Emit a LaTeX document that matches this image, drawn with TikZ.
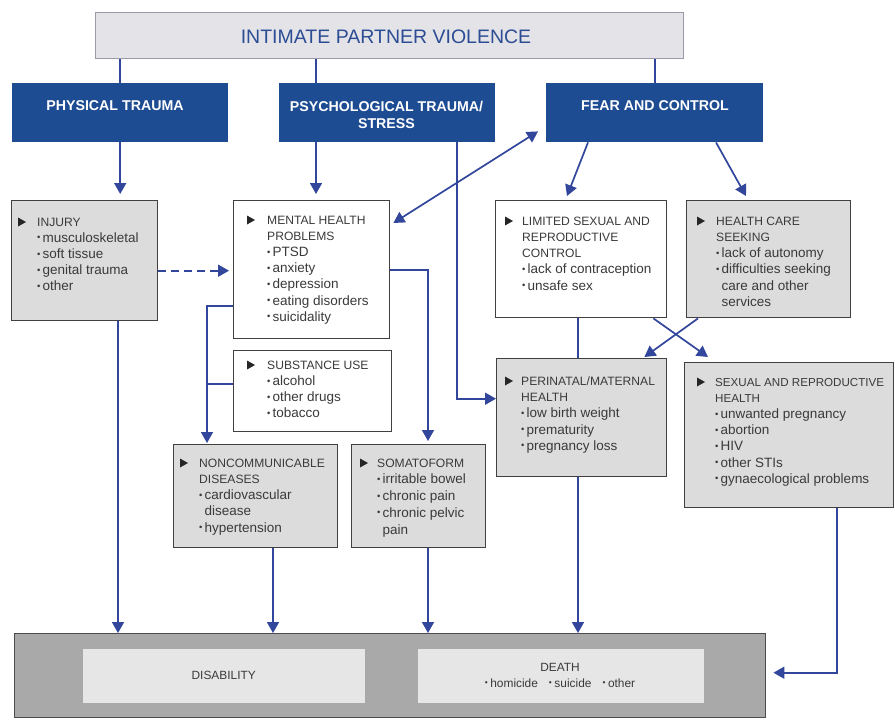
\documentclass[tikz,border=0pt]{standalone}
\usepackage{fontspec}
\setmainfont{Liberation Sans}
\usepackage{graphicx}
\usetikzlibrary{arrows.meta,calc}
\definecolor{navy}{HTML}{1E4C93}
\definecolor{lnblue}{HTML}{32469C}
\definecolor{gfill}{HTML}{DCDCDC}
\definecolor{txtc}{HTML}{3A3A3A}
\definecolor{ttlfill}{HTML}{E3E3E8}
\definecolor{ttlline}{HTML}{9A9AA8}
\definecolor{ttltext}{HTML}{2C4C94}
\definecolor{botfill}{HTML}{A9A9A9}
\definecolor{innfill}{HTML}{E6E6E6}
\newcommand\hd[1]{{\fontsize{12.1}{16.2}\selectfont #1}}
\newcommand\hdn[1]{{\fontsize{11.6}{16.2}\selectfont #1}}
\newcommand\bu[1]{\makebox[5.5pt][l]{\raisebox{0.2ex}{\scalebox{0.7}{•}}}#1}
\newcommand\bc[1]{\hspace*{5.5pt}#1}
\tikzset{
  anybox/.style={rectangle, anchor=north west, inner sep=0pt, line width=1.4pt},
  gbox/.style={anybox, draw=black!75, fill=gfill},
  wbox/.style={anybox, draw=black!75, fill=white},
  bbox/.style={anybox, draw=navy, fill=navy},
  btxt/.style={text=white, font=\fontsize{14.2}{17}\selectfont\bfseries, align=center, inner sep=0pt},
  txt/.style={anchor=north west, inner sep=0pt, align=left, text=txtc, font=\fontsize{13.5}{16.2}\selectfont},
  ln/.style={draw=lnblue, line width=1.7pt},
  arr/.style={ln, -{Triangle[width=12pt,length=11pt]}},
  darr/.style={ln, {Triangle[width=12pt,length=11pt]}-{Triangle[width=12pt,length=11pt]}},
  hdtri/.pic={\fill[black!85] (0,-4.5) -- (0,4.5) -- (8,0) -- cycle;}
}
\begin{document}
\begin{tikzpicture}[x=1pt,y=-1pt]
\useasboundingbox (0,0) rectangle (895,720);
\fill[white] (0,0) rectangle (895,720);

% title
\node[anybox, draw=ttlline, fill=ttlfill, minimum width=588pt, minimum height=46pt] (ipv) at (95,12) {};
\node[text=ttltext, font=\fontsize{19.5}{22}\selectfont, inner sep=0pt] (ipvT) at (386,37) {INTIMATE PARTNER VIOLENCE};

% blue boxes
\node[bbox, minimum width=215pt, minimum height=58pt] (phys) at (12,83) {};
\node[bbox, minimum width=215pt, minimum height=58pt] (psych) at (279,83) {};
\node[bbox, minimum width=216pt, minimum height=58pt] (fear) at (546,83) {};
\node[btxt] (physT) at (115,106) {PHYSICAL TRAUMA};
\node[btxt] (psychT) at (386.5,114.5) {PSYCHOLOGICAL TRAUMA/\\STRESS};
\node[btxt] (fearT) at (655,106) {FEAR AND CONTROL};

% content boxes
\node[gbox, minimum width=146pt, minimum height=120pt] (inj) at (11,200) {};
\pic at (18,222) {hdtri};
\node[txt] (injT) at (37,217.6) {\hd{INJURY}\\\bu{musculoskeletal}\\\bu{soft tissue}\\\bu{genital trauma}\\\bu{other}};

\node[wbox, minimum width=156pt, minimum height=138pt] (mh) at (233,200) {};
\pic at (247,220) {hdtri};
\node[txt] (mhT) at (267,215.6) {\hd{MENTAL HEALTH}\\\hd{PROBLEMS}\\\bu{PTSD}\\\bu{anxiety}\\\bu{depression}\\\bu{eating disorders}\\\bu{suicidality}};

\node[wbox, minimum width=158pt, minimum height=81pt] (sub) at (233,350) {};
\pic at (247,365) {hdtri};
\node[txt] (subT) at (267,360.6) {\hd{SUBSTANCE USE}\\\bu{alcohol}\\\bu{other drugs}\\\bu{tobacco}};

\node[gbox, minimum width=164pt, minimum height=103pt] (ncd) at (173,444) {};
\pic at (180,463) {hdtri};
\node[txt] (ncdT) at (199,458.6) {\hd{NONCOMMUNICABLE}\\\hd{DISEASES}\\\bu{cardiovascular}\\\bc{disease}\\\bu{hypertension}};

\node[gbox, minimum width=134pt, minimum height=103pt] (som) at (351,444) {};
\pic at (360,463) {hdtri};
\node[txt, font=\fontsize{13.5}{16.7}\selectfont] (somT) at (377,458.6) {\hd{SOMATOFORM}\\\bu{irritable bowel}\\\bu{chronic pain}\\\bu{chronic pelvic}\\\bc{pain}};

\node[wbox, minimum width=171pt, minimum height=117pt] (lim) at (495,200) {};
\pic at (505,221) {hdtri};
\node[txt] (limT) at (522,216.6) {\hd{LIMITED SEXUAL AND}\\\hd{REPRODUCTIVE}\\\hd{CONTROL}\\\bu{lack of contraception}\\\bu{unsafe sex}};

\node[gbox, minimum width=164pt, minimum height=117pt] (hcs) at (686,200) {};
\pic at (697,221) {hdtri};
\node[txt] (hcsT) at (716,216.6) {\hd{HEALTH CARE}\\\hd{SEEKING}\\\bu{lack of autonomy}\\\bu{difficulties seeking}\\\bc{care and other}\\\bc{services}};

\node[gbox, minimum width=170pt, minimum height=118pt] (per) at (496,358) {};
\pic at (505,381) {hdtri};
\node[txt] (perT) at (521,376.6) {\hd{PERINATAL/MATERNAL}\\\hd{HEALTH}\\\bu{low birth weight}\\\bu{prematurity}\\\bu{pregnancy loss}};

\node[gbox, minimum width=209pt, minimum height=145pt] (srh) at (684,362) {};
\pic at (697,382) {hdtri};
\node[txt] (srhT) at (715,377.8) {\hdn{SEXUAL AND REPRODUCTIVE}\\\hdn{HEALTH}\\\bu{unwanted pregnancy}\\\bu{abortion}\\\bu{HIV}\\\bu{other STIs}\\\bu{gynaecological problems}};

% bottom
\node[anybox, draw=black!70, fill=botfill, minimum width=751pt, minimum height=84pt] (bot) at (14,633) {};
\node[anybox, fill=innfill, minimum width=282pt, minimum height=54pt] (dis) at (82,648) {};
\node[anybox, fill=innfill, minimum width=286pt, minimum height=54pt] (death) at (417,648) {};
\node[text=txtc, font=\fontsize{11.9}{14}\selectfont, inner sep=0pt] (disT) at (dis.center) {DISABILITY};
\node[text=txtc, font=\fontsize{11.9}{16}\selectfont, align=center, inner sep=0pt] (deathT) at (560,675) {DEATH\\\bu{homicide}\hspace{11pt}\bu{suicide}\hspace{11pt}\bu{other}};

% connectors from title
\draw[ln] (phys.north |- ipv.south) -- (phys.north);
\draw[ln] ([xshift=37pt]psych.north west |- ipv.south) -- ([xshift=37pt]psych.north west);
\draw[ln] (fear.north |- ipv.south) -- (fear.north);

% blue boxes down
\draw[arr, shorten >=6pt] (phys.south) -- (phys.south |- inj.north);
\draw[arr, shorten >=6pt] ([xshift=37pt]psych.south west) -- ([xshift=37pt]psych.south west |- mh.north);
\draw[arr] ([xshift=178pt]psych.south west) |- ([yshift=19pt]per.west);
\draw[arr] ([xshift=42pt]fear.south west) -- ([xshift=72pt,yshift=4pt]lim.north west);
\draw[arr] ([xshift=170pt]fear.south west) -- ([xshift=60pt,yshift=4pt]hcs.north west);
\draw[darr] ([xshift=3pt,yshift=-23pt]mh.north east) -- ([xshift=-8pt,yshift=11pt]fear.south west);

% mental health links
\draw[arr, dash pattern=on 8pt off 5pt, shorten >=4pt] ([yshift=-10pt]inj.east) -- ([yshift=-10pt]inj.east -| mh.west);
\draw[arr, shorten >=3pt] (mh.east) -| ([xshift=77pt]som.north west);
\draw[arr, shorten >=1pt] ([yshift=-36pt]mh.west) -| ([xshift=34pt]ncd.north west);
\coordinate (subj) at ([xshift=34pt]ncd.north west |- sub.west);
\draw[ln] ([yshift=7pt]sub.west) -- ([yshift=7pt]subj);

% fear-side links
\draw[ln] ([xshift=83pt]lim.south west) -- ([xshift=83pt]lim.south west |- per.north);
\draw[arr] ([xshift=-14pt]lim.south east) -- ([xshift=24pt,yshift=5pt]srh.north west);
\draw[arr] ([xshift=12pt]hcs.south west) -- ([xshift=-23pt,yshift=1pt]per.north east);

% to bottom
\draw[arr] ([xshift=107pt]inj.south west) -- ([xshift=107pt]inj.south west |- bot.north);
\draw[arr] ([xshift=100pt]ncd.south west) -- ([xshift=100pt]ncd.south west |- bot.north);
\draw[arr] ([xshift=77pt]som.south west) -- ([xshift=77pt]som.south west |- bot.north);
\draw[arr] ([xshift=82pt]per.south west) -- ([xshift=82pt]per.south west |- bot.north);
\draw[arr, shorten >=7pt] ([xshift=153pt]srh.south west) |- ([yshift=3pt]bot.east);
\end{tikzpicture}
\end{document}
